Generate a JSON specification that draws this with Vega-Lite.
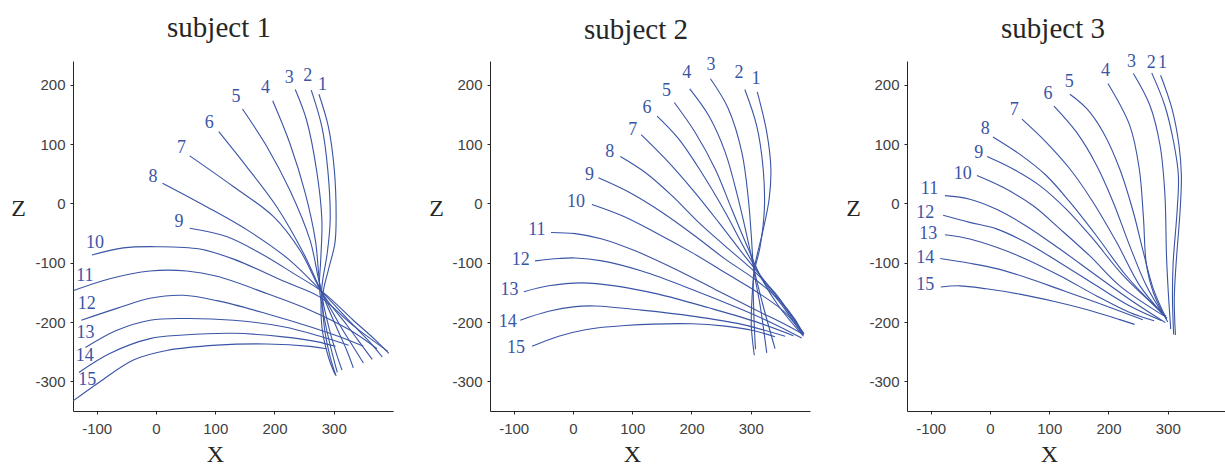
{
  "$schema": "https://vega.github.io/schema/vega-lite/v6.json",
  "padding": {"left": 10, "top": 14, "right": 0, "bottom": 0},
  "background": "white",
  "spacing": 97,
  "bounds": "flush",
  "config": {
    "view": {"stroke": null},
    "axis": {
      "grid": false,
      "domainColor": "#262626",
      "tickColor": "#262626",
      "tickSize": 3,
      "labelFont": "Liberation Sans",
      "labelFontSize": 15,
      "labelColor": "#404040",
      "titleFont": "Liberation Serif",
      "titleFontSize": 24,
      "titleFontWeight": "normal",
      "titleColor": "#262626"
    },
    "title": {
      "font": "Liberation Serif",
      "fontSize": 29,
      "fontWeight": "normal",
      "color": "#262626",
      "anchor": "middle",
      "dx": -14,
      "baseline": "alphabetic"
    }
  },
  "datasets": {
    "curves": [
      {"s":1,"c":1,"i":0,"x":275,"z":184},{"s":1,"c":1,"i":1,"x":291,"z":129},{"s":1,"c":1,"i":2,"x":301,"z":56},{"s":1,"c":1,"i":3,"x":304,"z":-22},{"s":1,"c":1,"i":4,"x":302,"z":-67},{"s":1,"c":1,"i":5,"x":291,"z":-112},{"s":1,"c":1,"i":6,"x":282,"z":-152},{"s":1,"c":1,"i":7,"x":284,"z":-208},{"s":1,"c":1,"i":8,"x":294,"z":-259},{"s":1,"c":1,"i":9,"x":304,"z":-291},
      {"s":1,"c":2,"i":0,"x":262,"z":191},{"s":1,"c":2,"i":1,"x":280,"z":129},{"s":1,"c":2,"i":2,"x":290,"z":56},{"s":1,"c":2,"i":3,"x":294,"z":-28},{"s":1,"c":2,"i":4,"x":289,"z":-84},{"s":1,"c":2,"i":5,"x":280,"z":-141},{"s":1,"c":2,"i":6,"x":280,"z":-208},{"s":1,"c":2,"i":7,"x":291,"z":-259},{"s":1,"c":2,"i":8,"x":302,"z":-288},
      {"s":1,"c":3,"i":0,"x":235,"z":192},{"s":1,"c":3,"i":1,"x":254,"z":141},{"s":1,"c":3,"i":2,"x":271,"z":56},{"s":1,"c":3,"i":3,"x":280,"z":-28},{"s":1,"c":3,"i":4,"x":278,"z":-96},{"s":1,"c":3,"i":5,"x":276,"z":-144},{"s":1,"c":3,"i":6,"x":287,"z":-208},{"s":1,"c":3,"i":7,"x":298,"z":-255},{"s":1,"c":3,"i":8,"x":306,"z":-285},
      {"s":1,"c":4,"i":0,"x":197,"z":173},{"s":1,"c":4,"i":1,"x":226,"z":101},{"s":1,"c":4,"i":2,"x":252,"z":17},{"s":1,"c":4,"i":3,"x":269,"z":-62},{"s":1,"c":4,"i":4,"x":277,"z":-140},{"s":1,"c":4,"i":5,"x":292,"z":-210},{"s":1,"c":4,"i":6,"x":305,"z":-255},{"s":1,"c":4,"i":7,"x":314,"z":-281},
      {"s":1,"c":5,"i":0,"x":146,"z":159},{"s":1,"c":5,"i":1,"x":187,"z":96},{"s":1,"c":5,"i":2,"x":226,"z":22},{"s":1,"c":5,"i":3,"x":260,"z":-62},{"s":1,"c":5,"i":4,"x":279,"z":-146},{"s":1,"c":5,"i":5,"x":303,"z":-205},{"s":1,"c":5,"i":6,"x":322,"z":-248},{"s":1,"c":5,"i":7,"x":333,"z":-277},
      {"s":1,"c":6,"i":0,"x":106,"z":121},{"s":1,"c":6,"i":1,"x":153,"z":62},{"s":1,"c":6,"i":2,"x":204,"z":-6},{"s":1,"c":6,"i":3,"x":249,"z":-84},{"s":1,"c":6,"i":4,"x":280,"z":-150},{"s":1,"c":6,"i":5,"x":312,"z":-208},{"s":1,"c":6,"i":6,"x":335,"z":-245},{"s":1,"c":6,"i":7,"x":350,"z":-269},
      {"s":1,"c":7,"i":0,"x":57,"z":80},{"s":1,"c":7,"i":1,"x":131,"z":28},{"s":1,"c":7,"i":2,"x":198,"z":-22},{"s":1,"c":7,"i":3,"x":243,"z":-79},{"s":1,"c":7,"i":4,"x":281,"z":-152},{"s":1,"c":7,"i":5,"x":322,"z":-205},{"s":1,"c":7,"i":6,"x":348,"z":-240},{"s":1,"c":7,"i":7,"x":365,"z":-263},
      {"s":1,"c":8,"i":0,"x":11,"z":34},{"s":1,"c":8,"i":1,"x":86,"z":-6},{"s":1,"c":8,"i":2,"x":159,"z":-48},{"s":1,"c":8,"i":3,"x":226,"z":-96},{"s":1,"c":8,"i":4,"x":279,"z":-148},{"s":1,"c":8,"i":5,"x":330,"z":-202},{"s":1,"c":8,"i":6,"x":362,"z":-235},{"s":1,"c":8,"i":7,"x":382,"z":-259},
      {"s":1,"c":9,"i":0,"x":57,"z":-42},{"s":1,"c":9,"i":1,"x":119,"z":-56},{"s":1,"c":9,"i":2,"x":176,"z":-84},{"s":1,"c":9,"i":3,"x":232,"z":-118},{"s":1,"c":9,"i":4,"x":282,"z":-150},{"s":1,"c":9,"i":5,"x":333,"z":-197},{"s":1,"c":9,"i":6,"x":370,"z":-230},{"s":1,"c":9,"i":7,"x":393,"z":-253},
      {"s":1,"c":10,"i":0,"x":-108,"z":-87},{"s":1,"c":10,"i":1,"x":-55,"z":-75},{"s":1,"c":10,"i":2,"x":1,"z":-73},{"s":1,"c":10,"i":3,"x":74,"z":-77},{"s":1,"c":10,"i":4,"x":131,"z":-94},{"s":1,"c":10,"i":5,"x":215,"z":-131},{"s":1,"c":10,"i":6,"x":277,"z":-158},{"s":1,"c":10,"i":7,"x":333,"z":-206},{"s":1,"c":10,"i":8,"x":391,"z":-249},
      {"s":1,"c":11,"i":0,"x":-139,"z":-147},{"s":1,"c":11,"i":1,"x":-78,"z":-127},{"s":1,"c":11,"i":2,"x":-10,"z":-114},{"s":1,"c":11,"i":3,"x":52,"z":-114},{"s":1,"c":11,"i":4,"x":103,"z":-123},{"s":1,"c":11,"i":5,"x":187,"z":-152},{"s":1,"c":11,"i":6,"x":260,"z":-180},{"s":1,"c":11,"i":7,"x":328,"z":-214},{"s":1,"c":11,"i":8,"x":373,"z":-245},
      {"s":1,"c":12,"i":0,"x":-126,"z":-197},{"s":1,"c":12,"i":1,"x":-66,"z":-177},{"s":1,"c":12,"i":2,"x":-10,"z":-160},{"s":1,"c":12,"i":3,"x":46,"z":-155},{"s":1,"c":12,"i":4,"x":103,"z":-164},{"s":1,"c":12,"i":5,"x":187,"z":-186},{"s":1,"c":12,"i":6,"x":260,"z":-208},{"s":1,"c":12,"i":7,"x":310,"z":-225},{"s":1,"c":12,"i":8,"x":350,"z":-241},
      {"s":1,"c":13,"i":0,"x":-119,"z":-243},{"s":1,"c":13,"i":1,"x":-66,"z":-214},{"s":1,"c":13,"i":2,"x":-10,"z":-197},{"s":1,"c":13,"i":3,"x":46,"z":-194},{"s":1,"c":13,"i":4,"x":131,"z":-197},{"s":1,"c":13,"i":5,"x":215,"z":-208},{"s":1,"c":13,"i":6,"x":277,"z":-224},{"s":1,"c":13,"i":7,"x":325,"z":-239},
      {"s":1,"c":14,"i":0,"x":-130,"z":-285},{"s":1,"c":14,"i":1,"x":-78,"z":-253},{"s":1,"c":14,"i":2,"x":-10,"z":-228},{"s":1,"c":14,"i":3,"x":46,"z":-222},{"s":1,"c":14,"i":4,"x":131,"z":-219},{"s":1,"c":14,"i":5,"x":215,"z":-225},{"s":1,"c":14,"i":6,"x":271,"z":-233},{"s":1,"c":14,"i":7,"x":303,"z":-241},
      {"s":1,"c":15,"i":0,"x":-140,"z":-333},{"s":1,"c":15,"i":1,"x":-95,"z":-301},{"s":1,"c":15,"i":2,"x":-38,"z":-264},{"s":1,"c":15,"i":3,"x":18,"z":-248},{"s":1,"c":15,"i":4,"x":103,"z":-239},{"s":1,"c":15,"i":5,"x":187,"z":-237},{"s":1,"c":15,"i":6,"x":260,"z":-241},{"s":1,"c":15,"i":7,"x":288,"z":-245},

      {"s":2,"c":1,"i":0,"x":311,"z":188},{"s":2,"c":1,"i":1,"x":327,"z":120},{"s":2,"c":1,"i":2,"x":334,"z":58},{"s":2,"c":1,"i":3,"x":331,"z":7},{"s":2,"c":1,"i":4,"x":320,"z":-49},{"s":2,"c":1,"i":5,"x":307,"z":-105},{"s":2,"c":1,"i":6,"x":302,"z":-162},{"s":2,"c":1,"i":7,"x":301,"z":-207},{"s":2,"c":1,"i":8,"x":306,"z":-256},
      {"s":2,"c":2,"i":0,"x":290,"z":192},{"s":2,"c":2,"i":1,"x":310,"z":131},{"s":2,"c":2,"i":2,"x":321,"z":58},{"s":2,"c":2,"i":3,"x":323,"z":-10},{"s":2,"c":2,"i":4,"x":316,"z":-72},{"s":2,"c":2,"i":5,"x":305,"z":-122},{"s":2,"c":2,"i":6,"x":305,"z":-179},{"s":2,"c":2,"i":7,"x":308,"z":-246},
      {"s":2,"c":3,"i":0,"x":232,"z":210},{"s":2,"c":3,"i":1,"x":262,"z":160},{"s":2,"c":3,"i":2,"x":285,"z":86},{"s":2,"c":3,"i":3,"x":296,"z":7},{"s":2,"c":3,"i":4,"x":301,"z":-55},{"s":2,"c":3,"i":5,"x":305,"z":-111},{"s":2,"c":3,"i":6,"x":316,"z":-173},{"s":2,"c":3,"i":7,"x":327,"z":-252},
      {"s":2,"c":4,"i":0,"x":197,"z":193},{"s":2,"c":4,"i":1,"x":229,"z":148},{"s":2,"c":4,"i":2,"x":257,"z":86},{"s":2,"c":4,"i":3,"x":279,"z":7},{"s":2,"c":4,"i":4,"x":296,"z":-66},{"s":2,"c":4,"i":5,"x":307,"z":-117},{"s":2,"c":4,"i":6,"x":321,"z":-173},{"s":2,"c":4,"i":7,"x":341,"z":-245},
      {"s":2,"c":5,"i":0,"x":171,"z":170},{"s":2,"c":5,"i":1,"x":206,"z":120},{"s":2,"c":5,"i":2,"x":240,"z":58},{"s":2,"c":5,"i":3,"x":268,"z":-10},{"s":2,"c":5,"i":4,"x":296,"z":-77},{"s":2,"c":5,"i":5,"x":319,"z":-128},{"s":2,"c":5,"i":6,"x":347,"z":-173},{"s":2,"c":5,"i":7,"x":389,"z":-224},
      {"s":2,"c":6,"i":0,"x":142,"z":147},{"s":2,"c":6,"i":1,"x":178,"z":109},{"s":2,"c":6,"i":2,"x":217,"z":52},{"s":2,"c":6,"i":3,"x":257,"z":-15},{"s":2,"c":6,"i":4,"x":290,"z":-77},{"s":2,"c":6,"i":5,"x":324,"z":-134},{"s":2,"c":6,"i":6,"x":358,"z":-179},{"s":2,"c":6,"i":7,"x":389,"z":-222},
      {"s":2,"c":7,"i":0,"x":115,"z":116},{"s":2,"c":7,"i":1,"x":156,"z":75},{"s":2,"c":7,"i":2,"x":201,"z":24},{"s":2,"c":7,"i":3,"x":246,"z":-32},{"s":2,"c":7,"i":4,"x":290,"z":-89},{"s":2,"c":7,"i":5,"x":330,"z":-139},{"s":2,"c":7,"i":6,"x":364,"z":-184},{"s":2,"c":7,"i":7,"x":390,"z":-220},
      {"s":2,"c":8,"i":0,"x":80,"z":79},{"s":2,"c":8,"i":1,"x":122,"z":52},{"s":2,"c":8,"i":2,"x":167,"z":13},{"s":2,"c":8,"i":3,"x":212,"z":-32},{"s":2,"c":8,"i":4,"x":257,"z":-72},{"s":2,"c":8,"i":5,"x":302,"z":-111},{"s":2,"c":8,"i":6,"x":341,"z":-151},{"s":2,"c":8,"i":7,"x":369,"z":-190},{"s":2,"c":8,"i":8,"x":389,"z":-219},
      {"s":2,"c":9,"i":0,"x":43,"z":43},{"s":2,"c":9,"i":1,"x":94,"z":19},{"s":2,"c":9,"i":2,"x":150,"z":-15},{"s":2,"c":9,"i":3,"x":206,"z":-55},{"s":2,"c":9,"i":4,"x":257,"z":-94},{"s":2,"c":9,"i":5,"x":307,"z":-128},{"s":2,"c":9,"i":6,"x":347,"z":-162},{"s":2,"c":9,"i":7,"x":375,"z":-196},{"s":2,"c":9,"i":8,"x":388,"z":-221},
      {"s":2,"c":10,"i":0,"x":32,"z":-2},{"s":2,"c":10,"i":1,"x":83,"z":-21},{"s":2,"c":10,"i":2,"x":139,"z":-49},{"s":2,"c":10,"i":3,"x":201,"z":-83},{"s":2,"c":10,"i":4,"x":257,"z":-117},{"s":2,"c":10,"i":5,"x":313,"z":-151},{"s":2,"c":10,"i":6,"x":358,"z":-184},{"s":2,"c":10,"i":7,"x":388,"z":-221},
      {"s":2,"c":11,"i":0,"x":-37,"z":-49},{"s":2,"c":11,"i":1,"x":4,"z":-51},{"s":2,"c":11,"i":2,"x":49,"z":-60},{"s":2,"c":11,"i":3,"x":105,"z":-80},{"s":2,"c":11,"i":4,"x":173,"z":-111},{"s":2,"c":11,"i":5,"x":240,"z":-145},{"s":2,"c":11,"i":6,"x":307,"z":-179},{"s":2,"c":11,"i":7,"x":352,"z":-201},{"s":2,"c":11,"i":8,"x":389,"z":-221},
      {"s":2,"c":12,"i":0,"x":-64,"z":-97},{"s":2,"c":12,"i":1,"x":-24,"z":-93},{"s":2,"c":12,"i":2,"x":4,"z":-92},{"s":2,"c":12,"i":3,"x":49,"z":-97},{"s":2,"c":12,"i":4,"x":116,"z":-114},{"s":2,"c":12,"i":5,"x":201,"z":-145},{"s":2,"c":12,"i":6,"x":285,"z":-179},{"s":2,"c":12,"i":7,"x":341,"z":-204},{"s":2,"c":12,"i":8,"x":386,"z":-227},
      {"s":2,"c":13,"i":0,"x":-83,"z":-149},{"s":2,"c":13,"i":1,"x":-41,"z":-139},{"s":2,"c":13,"i":2,"x":15,"z":-134},{"s":2,"c":13,"i":3,"x":71,"z":-139},{"s":2,"c":13,"i":4,"x":144,"z":-153},{"s":2,"c":13,"i":5,"x":229,"z":-176},{"s":2,"c":13,"i":6,"x":313,"z":-201},{"s":2,"c":13,"i":7,"x":372,"z":-223},
      {"s":2,"c":14,"i":0,"x":-89,"z":-197},{"s":2,"c":14,"i":1,"x":-41,"z":-182},{"s":2,"c":14,"i":2,"x":4,"z":-174},{"s":2,"c":14,"i":3,"x":38,"z":-173},{"s":2,"c":14,"i":4,"x":116,"z":-180},{"s":2,"c":14,"i":5,"x":201,"z":-190},{"s":2,"c":14,"i":6,"x":285,"z":-204},{"s":2,"c":14,"i":7,"x":358,"z":-224},
      {"s":2,"c":15,"i":0,"x":-69,"z":-241},{"s":2,"c":15,"i":1,"x":-24,"z":-224},{"s":2,"c":15,"i":2,"x":21,"z":-213},{"s":2,"c":15,"i":3,"x":88,"z":-206},{"s":2,"c":15,"i":4,"x":201,"z":-203},{"s":2,"c":15,"i":5,"x":257,"z":-207},{"s":2,"c":15,"i":6,"x":302,"z":-214},{"s":2,"c":15,"i":7,"x":341,"z":-225},

      {"s":3,"c":1,"i":0,"x":288,"z":216},{"s":3,"c":1,"i":1,"x":307,"z":160},{"s":3,"c":1,"i":2,"x":319,"z":98},{"s":3,"c":1,"i":3,"x":323,"z":47},{"s":3,"c":1,"i":4,"x":321,"z":-10},{"s":3,"c":1,"i":5,"x":314,"z":-103},{"s":3,"c":1,"i":6,"x":311,"z":-162},{"s":3,"c":1,"i":7,"x":313,"z":-222},
      {"s":3,"c":2,"i":0,"x":273,"z":220},{"s":3,"c":2,"i":1,"x":295,"z":165},{"s":3,"c":2,"i":2,"x":310,"z":103},{"s":3,"c":2,"i":3,"x":318,"z":47},{"s":3,"c":2,"i":4,"x":316,"z":-10},{"s":3,"c":2,"i":5,"x":309,"z":-103},{"s":3,"c":2,"i":6,"x":308,"z":-162},{"s":3,"c":2,"i":7,"x":310,"z":-221},
      {"s":3,"c":3,"i":0,"x":242,"z":219},{"s":3,"c":3,"i":1,"x":270,"z":165},{"s":3,"c":3,"i":2,"x":287,"z":98},{"s":3,"c":3,"i":3,"x":295,"z":19},{"s":3,"c":3,"i":4,"x":298,"z":-91},{"s":3,"c":3,"i":5,"x":301,"z":-151},{"s":3,"c":3,"i":6,"x":305,"z":-212},
      {"s":3,"c":4,"i":0,"x":199,"z":202},{"s":3,"c":4,"i":1,"x":236,"z":131},{"s":3,"c":4,"i":2,"x":252,"z":58},{"s":3,"c":4,"i":3,"x":259,"z":-24},{"s":3,"c":4,"i":4,"x":264,"z":-103},{"s":3,"c":4,"i":5,"x":276,"z":-151},{"s":3,"c":4,"i":6,"x":300,"z":-200},
      {"s":3,"c":5,"i":0,"x":135,"z":184},{"s":3,"c":5,"i":1,"x":163,"z":160},{"s":3,"c":5,"i":2,"x":191,"z":120},{"s":3,"c":5,"i":3,"x":219,"z":58},{"s":3,"c":5,"i":4,"x":242,"z":-15},{"s":3,"c":5,"i":5,"x":259,"z":-83},{"s":3,"c":5,"i":6,"x":276,"z":-145},{"s":3,"c":5,"i":7,"x":298,"z":-195},
      {"s":3,"c":6,"i":0,"x":108,"z":164},{"s":3,"c":6,"i":1,"x":146,"z":120},{"s":3,"c":6,"i":2,"x":180,"z":64},{"s":3,"c":6,"i":3,"x":208,"z":2},{"s":3,"c":6,"i":4,"x":236,"z":-72},{"s":3,"c":6,"i":5,"x":264,"z":-139},{"s":3,"c":6,"i":6,"x":292,"z":-187},
      {"s":3,"c":7,"i":0,"x":54,"z":142},{"s":3,"c":7,"i":1,"x":95,"z":103},{"s":3,"c":7,"i":2,"x":135,"z":58},{"s":3,"c":7,"i":3,"x":174,"z":2},{"s":3,"c":7,"i":4,"x":214,"z":-66},{"s":3,"c":7,"i":5,"x":253,"z":-139},{"s":3,"c":7,"i":6,"x":293,"z":-188},
      {"s":3,"c":8,"i":0,"x":5,"z":112},{"s":3,"c":8,"i":1,"x":50,"z":83},{"s":3,"c":8,"i":2,"x":95,"z":47},{"s":3,"c":8,"i":3,"x":135,"z":2},{"s":3,"c":8,"i":4,"x":180,"z":-55},{"s":3,"c":8,"i":5,"x":230,"z":-122},{"s":3,"c":8,"i":6,"x":295,"z":-190},
      {"s":3,"c":9,"i":0,"x":-5,"z":79},{"s":3,"c":9,"i":1,"x":39,"z":58},{"s":3,"c":9,"i":2,"x":84,"z":30},{"s":3,"c":9,"i":3,"x":129,"z":-10},{"s":3,"c":9,"i":4,"x":174,"z":-60},{"s":3,"c":9,"i":5,"x":225,"z":-122},{"s":3,"c":9,"i":6,"x":297,"z":-190},
      {"s":3,"c":10,"i":0,"x":-22,"z":47},{"s":3,"c":10,"i":1,"x":22,"z":27},{"s":3,"c":10,"i":2,"x":73,"z":-4},{"s":3,"c":10,"i":3,"x":118,"z":-43},{"s":3,"c":10,"i":4,"x":169,"z":-89},{"s":3,"c":10,"i":5,"x":219,"z":-139},{"s":3,"c":10,"i":6,"x":299,"z":-193},
      {"s":3,"c":11,"i":0,"x":-76,"z":13},{"s":3,"c":11,"i":1,"x":-34,"z":7},{"s":3,"c":11,"i":2,"x":11,"z":-10},{"s":3,"c":11,"i":3,"x":61,"z":-38},{"s":3,"c":11,"i":4,"x":118,"z":-77},{"s":3,"c":11,"i":5,"x":180,"z":-122},{"s":3,"c":11,"i":6,"x":236,"z":-162},{"s":3,"c":11,"i":7,"x":296,"z":-201},
      {"s":3,"c":12,"i":0,"x":-79,"z":-20},{"s":3,"c":12,"i":1,"x":-34,"z":-32},{"s":3,"c":12,"i":2,"x":11,"z":-43},{"s":3,"c":12,"i":3,"x":61,"z":-66},{"s":3,"c":12,"i":4,"x":118,"z":-100},{"s":3,"c":12,"i":5,"x":180,"z":-139},{"s":3,"c":12,"i":6,"x":236,"z":-173},{"s":3,"c":12,"i":7,"x":290,"z":-198},
      {"s":3,"c":13,"i":0,"x":-76,"z":-53},{"s":3,"c":13,"i":1,"x":-34,"z":-60},{"s":3,"c":13,"i":2,"x":11,"z":-74},{"s":3,"c":13,"i":3,"x":61,"z":-94},{"s":3,"c":13,"i":4,"x":118,"z":-122},{"s":3,"c":13,"i":5,"x":180,"z":-156},{"s":3,"c":13,"i":6,"x":236,"z":-184},{"s":3,"c":13,"i":7,"x":277,"z":-198},
      {"s":3,"c":14,"i":0,"x":-84,"z":-93},{"s":3,"c":14,"i":1,"x":-34,"z":-101},{"s":3,"c":14,"i":2,"x":11,"z":-110},{"s":3,"c":14,"i":3,"x":61,"z":-125},{"s":3,"c":14,"i":4,"x":118,"z":-145},{"s":3,"c":14,"i":5,"x":180,"z":-167},{"s":3,"c":14,"i":6,"x":258,"z":-196},
      {"s":3,"c":15,"i":0,"x":-83,"z":-141},{"s":3,"c":15,"i":1,"x":-51,"z":-139},{"s":3,"c":15,"i":2,"x":-6,"z":-144},{"s":3,"c":15,"i":3,"x":50,"z":-153},{"s":3,"c":15,"i":4,"x":107,"z":-165},{"s":3,"c":15,"i":5,"x":163,"z":-179},{"s":3,"c":15,"i":6,"x":219,"z":-196},{"s":3,"c":15,"i":7,"x":244,"z":-204}
    ],
    "labels": [
      {"s":1,"c":1,"x":281,"z":200},{"s":1,"c":2,"x":256,"z":214},{"s":1,"c":3,"x":225,"z":211},{"s":1,"c":4,"x":185,"z":194},{"s":1,"c":5,"x":135,"z":179},{"s":1,"c":6,"x":90,"z":136},{"s":1,"c":7,"x":43,"z":94},{"s":1,"c":8,"x":-5,"z":44},{"s":1,"c":9,"x":39,"z":-32},{"s":1,"c":10,"x":-103,"z":-67},{"s":1,"c":11,"x":-120,"z":-123},{"s":1,"c":12,"x":-117,"z":-169},{"s":1,"c":13,"x":-119,"z":-218},{"s":1,"c":14,"x":-120,"z":-258},{"s":1,"c":15,"x":-116,"z":-297},
      {"s":2,"c":1,"x":309,"z":210},{"s":2,"c":2,"x":280,"z":219},{"s":2,"c":3,"x":233,"z":234},{"s":2,"c":4,"x":192,"z":219},{"s":2,"c":5,"x":158,"z":190},{"s":2,"c":6,"x":125,"z":160},{"s":2,"c":7,"x":101,"z":123},{"s":2,"c":8,"x":62,"z":86},{"s":2,"c":9,"x":28,"z":48},{"s":2,"c":10,"x":5,"z":2},{"s":2,"c":11,"x":-61,"z":-45},{"s":2,"c":12,"x":-88,"z":-96},{"s":2,"c":13,"x":-107,"z":-146},{"s":2,"c":14,"x":-110,"z":-200},{"s":2,"c":15,"x":-96,"z":-243},
      {"s":3,"c":1,"x":291,"z":236},{"s":3,"c":2,"x":272,"z":236},{"s":3,"c":3,"x":239,"z":238},{"s":3,"c":4,"x":195,"z":223},{"s":3,"c":5,"x":134,"z":205},{"s":3,"c":6,"x":98,"z":185},{"s":3,"c":7,"x":41,"z":157},{"s":3,"c":8,"x":-8,"z":125},{"s":3,"c":9,"x":-19,"z":85},{"s":3,"c":10,"x":-46,"z":50},{"s":3,"c":11,"x":-102,"z":25},{"s":3,"c":12,"x":-109,"z":-17},{"s":3,"c":13,"x":-104,"z":-52},{"s":3,"c":14,"x":-109,"z":-92},{"s":3,"c":15,"x":-109,"z":-138}
    ]
  },
  "hconcat": [
    {
      "width": 320, "height": 350,
      "title": {"text": "subject 1", "offset": 18},
      "encoding": {
        "x": {"field": "x", "type": "quantitative", "scale": {"domain": [-140, 400], "nice": false, "zero": false},
              "axis": {"values": [-100, 0, 100, 200, 300], "labelExpr": "'' + datum.value", "labelPadding": 7, "title": "X", "titleX": 142, "titleY": 50, "titleAlign": "center", "titleBaseline": "alphabetic"}},
        "y": {"field": "z", "type": "quantitative", "scale": {"domain": [-350, 240], "nice": false, "zero": false},
              "axis": {"values": [-300, -200, -100, 0, 100, 200], "labelExpr": "'' + datum.value", "labelPadding": 5, "title": "Z", "titleAngle": 0, "titleX": -55, "titleY": 154, "titleAlign": "center", "titleBaseline": "alphabetic"}}
      },
      "layer": [
        {"data": {"name": "curves"}, "transform": [{"filter": "datum.s == 1"}],
         "mark": {"type": "line", "interpolate": "catmull-rom", "color": "#3a54a6", "strokeWidth": 1.1, "clip": true},
         "encoding": {"detail": {"field": "c", "type": "nominal"}, "order": {"field": "i", "type": "quantitative"}}},
        {"data": {"name": "labels"}, "transform": [{"filter": "datum.s == 1"}],
         "mark": {"type": "text", "font": "Liberation Serif", "fontSize": 18, "color": "#3a54a6", "align": "center", "baseline": "middle"},
         "encoding": {"text": {"field": "c", "type": "nominal"}}}
      ]
    },
    {
      "width": 320, "height": 350,
      "title": {"text": "subject 2", "offset": 11},
      "encoding": {
        "x": {"field": "x", "type": "quantitative", "scale": {"domain": [-140, 400], "nice": false, "zero": false},
              "axis": {"values": [-100, 0, 100, 200, 300], "labelExpr": "'' + datum.value", "labelPadding": 7, "title": "X", "titleX": 142, "titleY": 50, "titleAlign": "center", "titleBaseline": "alphabetic"}},
        "y": {"field": "z", "type": "quantitative", "scale": {"domain": [-350, 240], "nice": false, "zero": false},
              "axis": {"values": [-300, -200, -100, 0, 100, 200], "labelExpr": "'' + datum.value", "labelPadding": 5, "title": "Z", "titleAngle": 0, "titleX": -54, "titleY": 154, "titleAlign": "center", "titleBaseline": "alphabetic"}}
      },
      "layer": [
        {"data": {"name": "curves"}, "transform": [{"filter": "datum.s == 2"}],
         "mark": {"type": "line", "interpolate": "catmull-rom", "color": "#3a54a6", "strokeWidth": 1.1, "clip": true},
         "encoding": {"detail": {"field": "c", "type": "nominal"}, "order": {"field": "i", "type": "quantitative"}}},
        {"data": {"name": "labels"}, "transform": [{"filter": "datum.s == 2"}],
         "mark": {"type": "text", "font": "Liberation Serif", "fontSize": 18, "color": "#3a54a6", "align": "center", "baseline": "middle"},
         "encoding": {"text": {"field": "c", "type": "nominal"}}}
      ]
    },
    {
      "width": 320, "height": 350,
      "title": {"text": "subject 3", "offset": 9},
      "encoding": {
        "x": {"field": "x", "type": "quantitative", "scale": {"domain": [-140, 400], "nice": false, "zero": false},
              "axis": {"values": [-100, 0, 100, 200, 300], "labelExpr": "'' + datum.value", "labelPadding": 7, "title": "X", "titleX": 142, "titleY": 50, "titleAlign": "center", "titleBaseline": "alphabetic"}},
        "y": {"field": "z", "type": "quantitative", "scale": {"domain": [-350, 240], "nice": false, "zero": false},
              "axis": {"values": [-300, -200, -100, 0, 100, 200], "labelExpr": "'' + datum.value", "labelPadding": 5, "title": "Z", "titleAngle": 0, "titleX": -54, "titleY": 154, "titleAlign": "center", "titleBaseline": "alphabetic"}}
      },
      "layer": [
        {"data": {"name": "curves"}, "transform": [{"filter": "datum.s == 3"}],
         "mark": {"type": "line", "interpolate": "catmull-rom", "color": "#3a54a6", "strokeWidth": 1.1, "clip": true},
         "encoding": {"detail": {"field": "c", "type": "nominal"}, "order": {"field": "i", "type": "quantitative"}}},
        {"data": {"name": "labels"}, "transform": [{"filter": "datum.s == 3"}],
         "mark": {"type": "text", "font": "Liberation Serif", "fontSize": 18, "color": "#3a54a6", "align": "center", "baseline": "middle"},
         "encoding": {"text": {"field": "c", "type": "nominal"}}}
      ]
    }
  ]
}
